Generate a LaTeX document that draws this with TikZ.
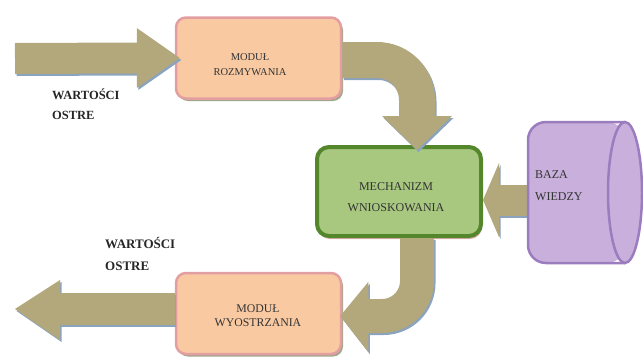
\documentclass[tikz,border=0pt]{standalone}
\usepackage{fontspec}
\setmainfont{Liberation Serif}
\usetikzlibrary{calc,shadows}
\definecolor{khaki}{RGB}{179,167,124}
\definecolor{arrshadow}{RGB}{138,163,190}
\definecolor{peachfill}{RGB}{249,201,162}
\definecolor{peachline}{RGB}{226,158,160}
\definecolor{peachshadow}{RGB}{158,168,138}
\definecolor{greenfill}{RGB}{168,200,128}
\definecolor{greenline}{RGB}{84,134,44}
\definecolor{greenshadow}{RGB}{222,172,172}
\definecolor{lavfill}{RGB}{201,176,220}
\definecolor{lavline}{RGB}{155,124,190}
\begin{document}
\begin{tikzpicture}[x=1pt,y=-1pt,
  peachbox/.style={draw=peachline, line width=2.5pt, fill=peachfill, rounded corners=10pt,
    minimum width=165pt, minimum height=81pt, inner sep=0pt,
    drop shadow={shadow xshift=2pt, shadow yshift=-2.5pt, fill=peachshadow, opacity=1}},
  greenbox/.style={draw=greenline, line width=4pt, fill=greenfill, rounded corners=12pt,
    minimum width=164pt, minimum height=89pt, inner sep=0pt,
    drop shadow={shadow xshift=1pt, shadow yshift=-3pt, fill=greenshadow, opacity=1}},
  boxtext/.style={align=center, inner sep=0pt, text=black!80},
  lbl/.style={align=left, inner sep=0pt, anchor=west, text=black!85,
    font=\fontsize{12.5}{20}\selectfont\bfseries},
]
\useasboundingbox (0,0) rectangle (643,357);

% boxes
\node[peachbox] (rozm) at (258.5,58) {};
\node[greenbox] (mech) at (399,191.5) {};
\node[peachbox] (wyos) at (258.5,313.5) {};
\node[minimum width=97pt, minimum height=141pt, inner sep=0pt] (baza) at (576.5,192.5) {};

% anchor coordinates for arrows
\coordinate (in1) at (15,58.5);
\coordinate (t1) at ([xshift=5pt]rozm.west);
\coordinate (t2) at ([xshift=18pt,yshift=-5pt]mech.north);
\coordinate (b3) at ([yshift=-7.5pt]baza.west);
\coordinate (t3) at (b3 -| mech.east);
\coordinate (t4) at ([xshift=-2pt,yshift=-2.5pt]wyos.east);
\coordinate (s5) at ([yshift=4.5pt]wyos.west);
\coordinate (out5) at (15,309);

% block arrows (shadow, then fill)
\foreach \col/\dx/\dy in {arrshadow/1.5/-2, khaki/0/0}{
\begin{scope}[transform canvas={shift={(\dx pt,\dy pt)}}]
  % input arrow
  \draw[\col, line width=31pt] (in1) -- ($(t1)+(-42,0)$);
  \fill[\col] ($(t1)+(-43,-30)$) -- (t1) -- ($(t1)+(-43,30)$) -- cycle;
  % rozmywanie -> mechanizm
  \draw[\col, line width=36pt, rounded corners=40pt] ([yshift=-2pt]rozm.east) -| ($(t2)+(0,-33)$);
  \fill[\col] ($(t2)+(-35,-34)$) -- (t2) -- ($(t2)+(35,-34)$) -- cycle;
  % baza -> mechanizm
  \draw[\col, line width=31pt] (b3) -- ($(t3)+(15,0)$);
  \fill[\col] ($(t3)+(16,-37)$) -- (t3) -- ($(t3)+(16,37)$) -- cycle;
  % mechanizm -> wyostrzanie
  \draw[\col, line width=34pt, rounded corners=35pt] ([xshift=18pt]mech.south) |- ($(t4)+(27,0)$);
  \fill[\col] ($(t4)+(28,-34)$) -- (t4) -- ($(t4)+(28,36)$) -- cycle;
  % output arrow
  \draw[\col, line width=32pt] (s5) -- ($(out5)+(44,0)$);
  \fill[\col] ($(out5)+(45,-29)$) -- (out5) -- ($(out5)+(45,31)$) -- cycle;
\end{scope}
}

% cylinder (baza wiedzy)
\fill[lavfill, rounded corners=18pt] (625,122) -- (528,122) -- (528,263) -- (625,263) -- cycle;
\draw[lavline, line width=2.5pt, rounded corners=18pt] (625,122) -- (528,122) -- (528,263) -- (625,263);
\filldraw[fill=lavfill, draw=lavline, line width=2.5pt] (625,192.5) ellipse [x radius=17, y radius=70.5];

% texts
\node[boxtext, font=\fontsize{10.5}{15}\selectfont] (rozmT) at (250,64.5) {MODUŁ\\ROZMYWANIA};
\node[boxtext, font=\fontsize{12}{21}\selectfont] (mechT) at (396,197.5) {MECHANIZM\\WNIOSKOWANIA};
\node[boxtext, font=\fontsize{11.8}{13.5}\selectfont] (wyosT) at (258,315.5) {MODUŁ\\WYOSTRZANIA};
\node[align=left, inner sep=0pt, anchor=west, text=black!80, font=\fontsize{12}{22}\selectfont] (bazaT) at (535,186) {BAZA\\WIEDZY};
\node[lbl] (lblIn) at (52,104.5) {WARTOŚCI\\OSTRE};
\node[lbl, font=\fontsize{13}{22}\selectfont\bfseries] (lblOut) at (105,253.5) {WARTOŚCI\\OSTRE};
\end{tikzpicture}
\end{document}
